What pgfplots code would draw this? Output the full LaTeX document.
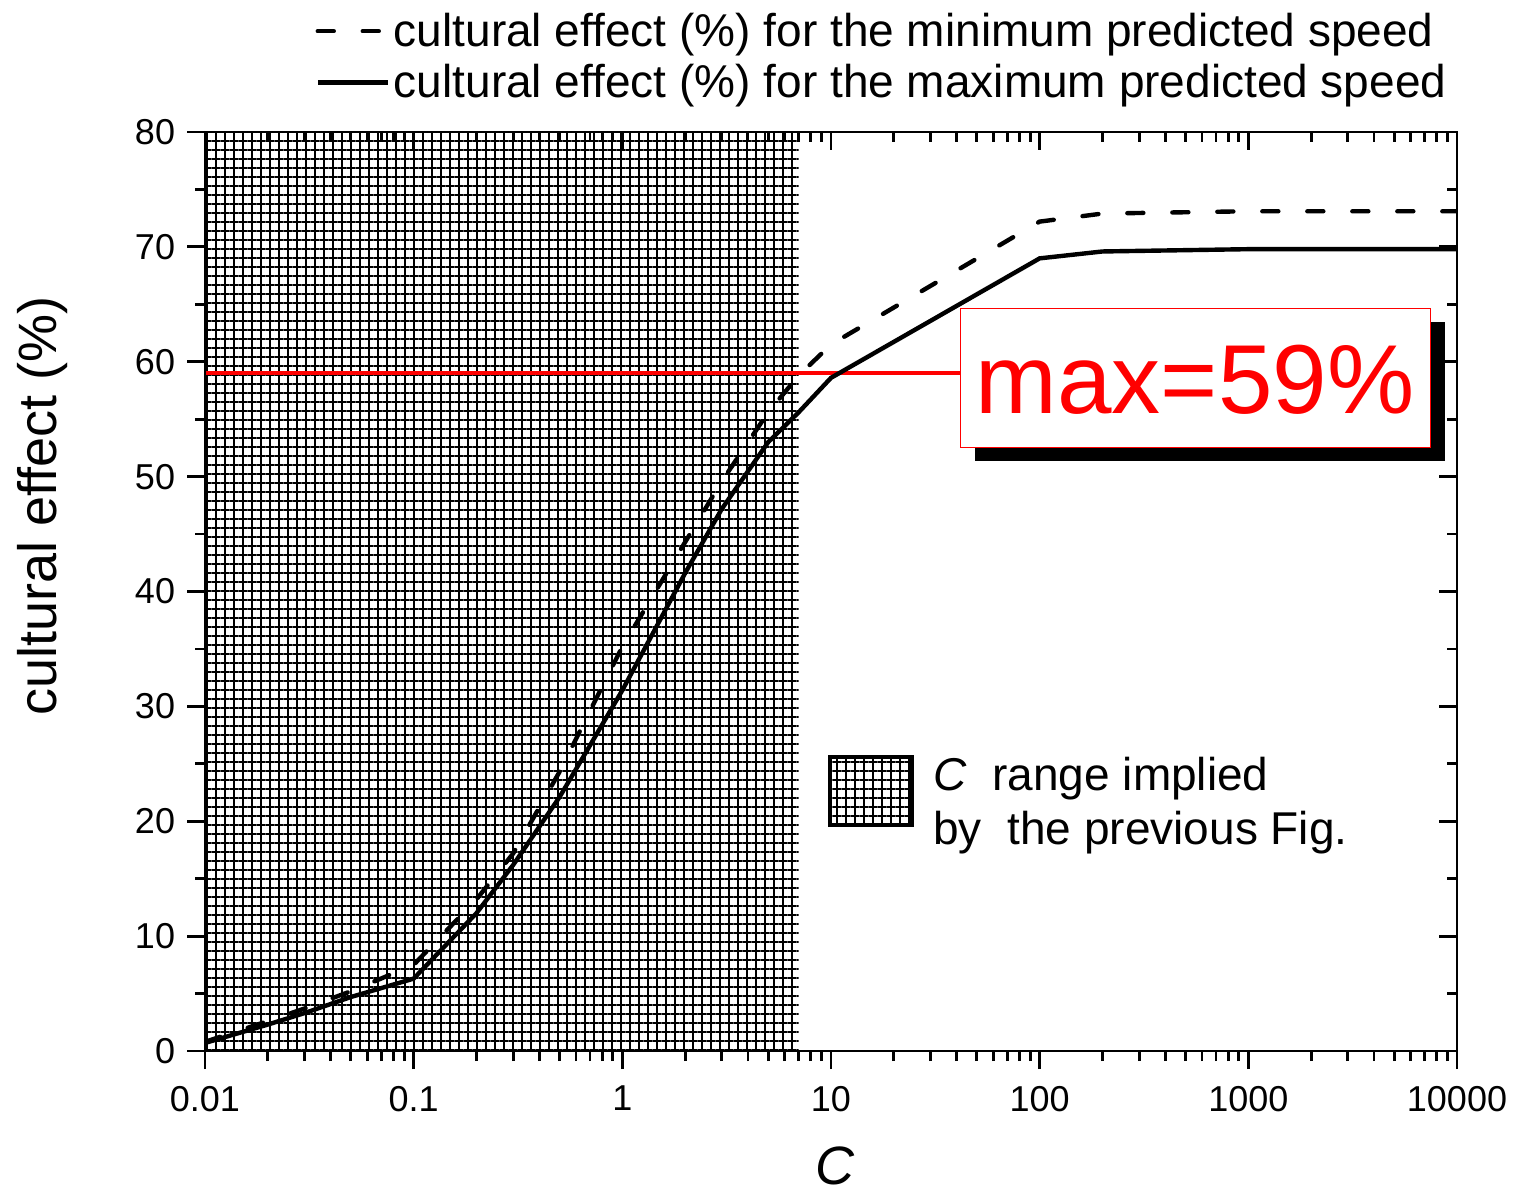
\documentclass[border=0pt]{standalone}
\usepackage{fontspec}
\setmainfont{Liberation Sans}
\usepackage{pgfplots}
\usepackage{pgfplotstable}
\pgfplotsset{compat=1.18}
\usetikzlibrary{patterns.meta}

\pgfplotstableread{
C y
0.01 0.8
0.02 2.6
0.03 3.7
0.05 5.2
0.1 7.5
0.2 13.2
0.3 17.2
0.5 24.3
0.7 29.6
1 35.2
2 44.3
3 49.6
5 55.6
7 58.8
10 61.5
100 72.2
200 72.9
1000 73.1
10000 73.1
}\mindata

\pgfplotstableread{
C y
0.01 0.7
0.02 2.3
0.03 3.3
0.05 4.7
0.1 6.3
0.2 12.0
0.3 16.2
0.5 22.1
0.7 26.6
1 31.4
2 41.6
3 47.2
5 53.0
7 55.6
10 58.6
100 69.0
200 69.6
1000 69.8
10000 69.8
}\maxdata

\pgfplotsset{
  mylegimg/.style={legend image code/.code={\draw[##1] (0bp,0bp) -- (35bp,0bp);}},
}

\begin{document}
\begin{tikzpicture}
\useasboundingbox (-102.5bp,-71.5bp) rectangle (656.5bp,525.5bp);
\begin{axis}[
    at={(0,0)}, anchor=south west, scale only axis,
    width=626bp, height=459.5bp,
    xmode=log, xmin=0.01, xmax=10000, ymin=0, ymax=80,
    xtick={0.01,0.1,1,10,100,1000,10000},
    minor xtick={0.02,0.03,0.04,0.05,0.06,0.07,0.08,0.09,0.2,0.3,0.4,0.5,0.6,0.7,0.8,0.9,2,3,4,5,6,7,8,9,20,30,40,50,60,70,80,90,200,300,400,500,600,700,800,900,2000,3000,4000,5000,6000,7000,8000,9000},
    ytick={0,10,20,30,40,50,60,70,80},
    minor ytick={5,15,25,35,45,55,65,75},
    major tick length=9bp, minor tick length=5bp,
    tick style={black, line width=1.4bp},
    axis line style={line width=1.4bp},
    tick label style={font=\fontsize{18bp}{21bp}\selectfont},
    yticklabel={\pgfmathprintnumber[assume math mode=true]{\tick}},
    yticklabel style={xshift=-2.5bp},
    xticklabel style={yshift=-5bp},
    xtick pos=left, ytick pos=left, tick align=outside,
    xticklabels={0.01,0.1,1,10,100,1000,10000},
    xlabel={\textit{C}},
    ylabel={cultural effect (\%)},
    label style={font=\fontsize{27bp}{30bp}\selectfont},
    xlabel style={at={(axis description cs:0.503,-0.1255)}, anchor=center},
    ylabel style={at={(axis description cs:-0.130,0.593)}, anchor=center},
    legend style={draw=none, fill=none, at={(0.088,1)}, anchor=south west,
      yshift=13.5bp, inner sep=0pt, row sep=3.5bp,
      font=\fontsize{23bp}{26bp}\selectfont},
    legend cell align=left,
    mylegimg,
  ]
  \addplot[draw=none, pattern={Hatch[angle=0,distance=4.5bp,line width=1.45bp]}, pattern color=black, forget plot]
    coordinates {(0.01,80) (7,80)} \closedcycle;
  \addplot[red, line width=2.2bp, forget plot] coordinates {(0.01,59) (45,59)};
  \addplot[black, line width=2.2bp, line cap=round, dash pattern=on 8bp off 14.5bp] table[x=C,y=y] {\mindata};
  \addlegendentry{cultural effect (\%) for the minimum predicted speed}
  \addplot[black, line width=2.2bp] table[x=C,y=y] {\maxdata};
  \addlegendentry{cultural effect (\%) for the maximum predicted speed}
\end{axis}
\begin{axis}[
    at={(0,0)}, anchor=south west, scale only axis,
    width=626bp, height=459.5bp,
    xmode=log, xmin=0.01, xmax=10000, ymin=0, ymax=80,
    xtick={0.01,0.1,1,10,100,1000,10000},
    minor xtick={0.02,0.03,0.04,0.05,0.06,0.07,0.08,0.09,0.2,0.3,0.4,0.5,0.6,0.7,0.8,0.9,2,3,4,5,6,7,8,9,20,30,40,50,60,70,80,90,200,300,400,500,600,700,800,900,2000,3000,4000,5000,6000,7000,8000,9000},
    ytick={0,10,20,30,40,50,60,70,80},
    minor ytick={5,15,25,35,45,55,65,75},
    major tick length=9bp, minor tick length=5bp,
    tick style={black, line width=1.4bp},
    axis line style={line width=1.4bp},
    xtick pos=right, ytick pos=right, tick align=inside,
    xticklabels={}, yticklabels={},
  ]
  \addplot[draw=none] coordinates {(1,1)};
\end{axis}
% annotation box
\fill[black] (385bp,294.75bp) rectangle (620bp,364.25bp);
\node[draw=red, line width=0.5bp, fill=white, minimum width=235bp, minimum height=69.5bp, inner sep=0pt] at (495bp,336.25bp) {};
\node[text=red, font=\fontsize{49bp}{50bp}\selectfont, inner sep=0pt] at (495bp,335.5bp) {max=59\%};
% hatch legend
\draw[line width=1.6bp, pattern={Hatch[angle=0,distance=4.5bp,line width=1.45bp]}, pattern color=black] (312.5bp,113bp) rectangle (353.5bp,147bp);
\node[anchor=base west, inner sep=0pt, font=\fontsize{23bp}{26bp}\selectfont] at (364bp,130bp) {\textit{C}\ \ range implied};
\node[anchor=base west, inner sep=0pt, font=\fontsize{23bp}{26bp}\selectfont] at (364bp,103bp) {by\ \ the previous Fig.};
\end{tikzpicture}
\end{document}
